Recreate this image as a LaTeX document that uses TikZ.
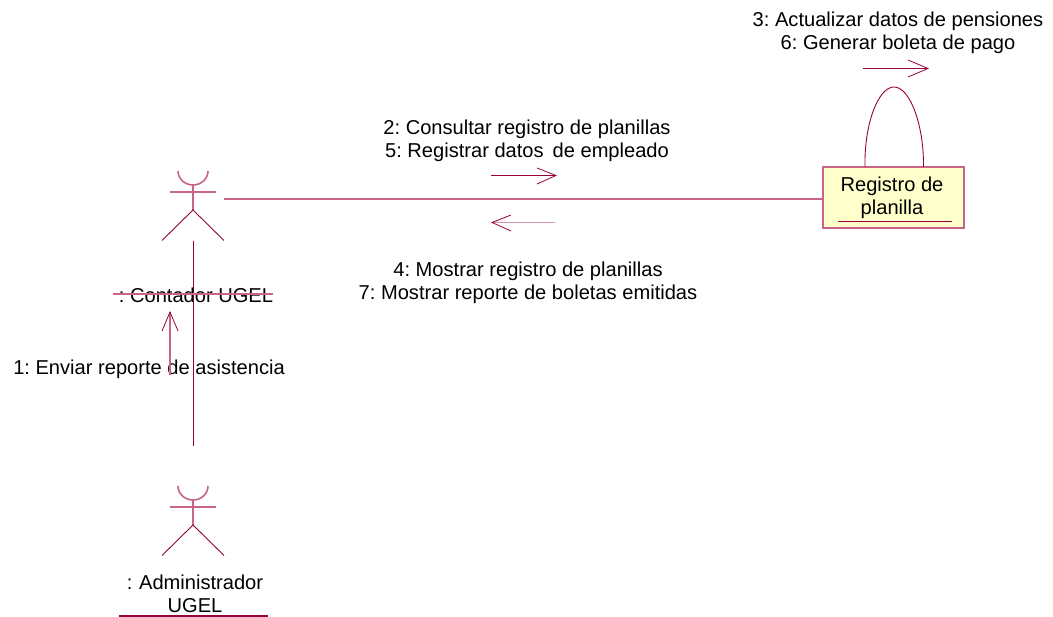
\documentclass[tikz,border=0pt]{standalone}
\usepackage{fontspec}
\setmainfont{Liberation Sans}
\frenchspacing
\definecolor{rose}{RGB}{150,0,60}
\definecolor{rosel}{RGB}{200,100,135}
\definecolor{boxfill}{RGB}{255,255,204}
\tikzset{
  lbl/.style={inner sep=0pt,text=black,font=\fontsize{20.1}{23}\selectfont,align=center},
  thinrose/.style={draw=rose,line width=0.9pt},
  softrose/.style={draw=rosel,line width=1.6pt},
  msg/.style={draw=rose,line width=1pt},
  msgtip/.style={draw=rose,line width=0.8pt},
  objbox/.style={draw=rosel,fill=boxfill,line width=1.4pt,minimum width=141pt,minimum height=61pt,inner sep=0pt}
}
\newcommand{\stick}[3]{%
  \coordinate (#3head) at (#1,#2);
  \draw[softrose] (#1-15,#2) arc[start angle=180,end angle=0,x radius=15,y radius=14];
  \draw[softrose] (#1-23,#2+21) -- (#1+23,#2+21);
  \draw[softrose] (#1,#2+14) -- (#1,#2+39);
  \draw[thinrose] (#1,#2+39) -- (#1-31,#2+69.5);
  \draw[thinrose] (#1,#2+39) -- (#1+31,#2+69.5);
}
\begin{document}
\begin{tikzpicture}[x=1pt,y=-1pt]
\useasboundingbox (0,0) rectangle (1053,617);
% actors
\stick{193}{171}{cont}
\stick{193}{486}{admin}
% coordinates
\coordinate (contR) at (224,199);
\coordinate (contB) at (193.5,241);
\coordinate (adminT) at (193.5,446);
% object
\node[objbox] (reg) at (893.5,197.5) {};
\node[lbl] (regtxt) at (892,198) {Registro de\\planilla};
\draw[thinrose] (838,221.5) -- (952,221.5);
% links
\draw[softrose] (contR) -- (reg.west |- contR);
\draw[draw=rose,line width=1.2pt] (contB) -- (adminT);
% self loop
\coordinate (loopL) at (865,167);
\coordinate (loopR) at (923.5,167);
\draw[thinrose] (loopL) .. controls (864,125) and (878,87) .. (894,87) .. controls (910,87) and (924,125) .. (loopR);
% labels
\node[lbl] (m36) at (898,33) {3: Actualizar datos de pensiones\\6: Generar boleta de pago};
\node[lbl] (m25) at (527,141) {2: Consultar registro de planillas\\5: Registrar datos\, de empleado};
\node[lbl] (m47) at (528,282.5) {4: Mostrar registro de planillas\\7: Mostrar reporte de boletas emitidas};
\node[lbl] (m1) at (149,369) {1: Enviar reporte de asistencia};
\node[lbl] (contn) at (196,295) {: Contador UGEL};
\draw[softrose] (113,294) -- (273,294);
\node[lbl] (admn) at (195,594) {:\,\,Administrador\\UGEL};
\draw[draw=rose,line width=1.6pt] (119,616) -- (268,616);
% arrows
\coordinate (a1s) at (863,68.5); \coordinate (a1e) at (928,68.5);
\draw[msg] (a1s) -- (a1e);
\draw[msgtip] (908,60) -- (a1e) -- (908,77);
\coordinate (a2s) at (491,175.5); \coordinate (a2e) at (556,175.5);
\draw[msg] (a2s) -- (a2e);
\draw[msgtip] (537,168) -- (a2e) -- (537,184);
\coordinate (a3s) at (555,222.5); \coordinate (a3e) at (492,222.5);
\draw[draw=rosel!70,line width=0.9pt] (a3s) -- (a3e);
\draw[msgtip] (511,215) -- (a3e) -- (511,231);
\coordinate (a4s) at (170,375); \coordinate (a4e) at (170,312);
\draw[softrose] (a4s) -- (a4e);
\draw[msgtip] (162,331) -- (a4e) -- (178,331);
\end{tikzpicture}
\end{document}
